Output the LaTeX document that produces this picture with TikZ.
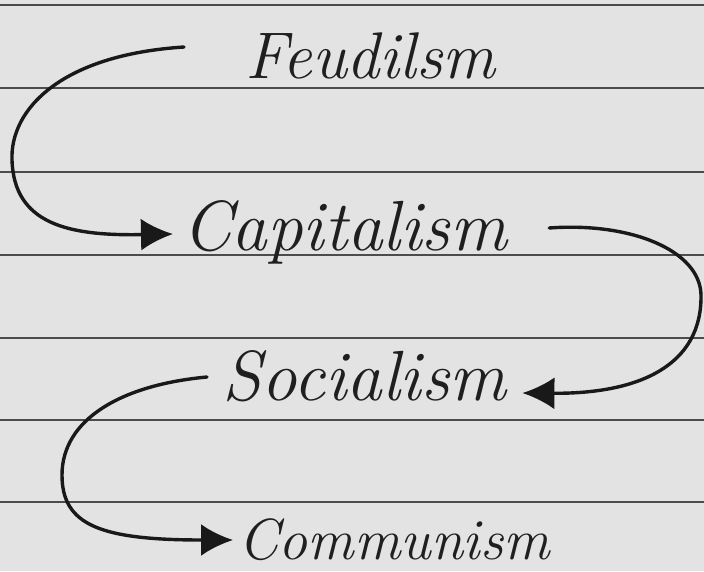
\documentclass[tikz,border=0pt]{standalone}
\usetikzlibrary{arrows.meta,calc}
\begin{document}
\begin{tikzpicture}[x=1pt,y=-1pt,
  word/.style={inner sep=0pt, anchor=base west, text=black!88},
  rule/.style={draw=black!70, line width=1.2pt},
  flow/.style={draw=black!90, line width=3.4pt, line cap=round, -{Latex[length=32pt,width=32pt]}}]
\fill[black!11] (0,0) rectangle (704,571);
\useasboundingbox (0,0) rectangle (704,571);
\foreach \yy in {5,88,172,255,338,420,502} \draw[rule] (0,\yy) -- (704,\yy);
\node[word, font=\fontsize{66}{66}\selectfont\itshape] (feud) at (245,78) {Feudilsm};
\node[word, font=\fontsize{71}{71}\selectfont\itshape] (cap) at (182,250) {Capitalism};
\node[word, font=\fontsize{71}{71}\selectfont\itshape] (soc) at (222,400) {Socialism};
\node[word, font=\fontsize{58}{58}\selectfont\itshape] (com) at (238,559) {Communism};
\coordinate (s1) at ($(feud.base west)+(-61,-31)$);
\coordinate (t1) at ($(cap.base west)+(-9,-16)$);
\coordinate (s2) at ($(cap.base east)+(42,-22)$);
\coordinate (t2) at ($(soc.base east)+(16,-7)$);
\coordinate (s3) at ($(soc.base west)+(-15,-23)$);
\coordinate (t3) at ($(com.base west)+(-5,-19)$);
\draw[flow] (s1) .. controls (60,55) and (10,110) .. (12,160) .. controls (14,225) and (70,236) .. (t1);
\draw[flow] (s2) .. controls (630,222) and (700,250) .. (701,295) .. controls (702,365) and (640,394) .. (t2);
\draw[flow] (s3) .. controls (120,385) and (62,420) .. (62,475) .. controls (62,525) and (100,540) .. (t3);
\end{tikzpicture}
\end{document}
